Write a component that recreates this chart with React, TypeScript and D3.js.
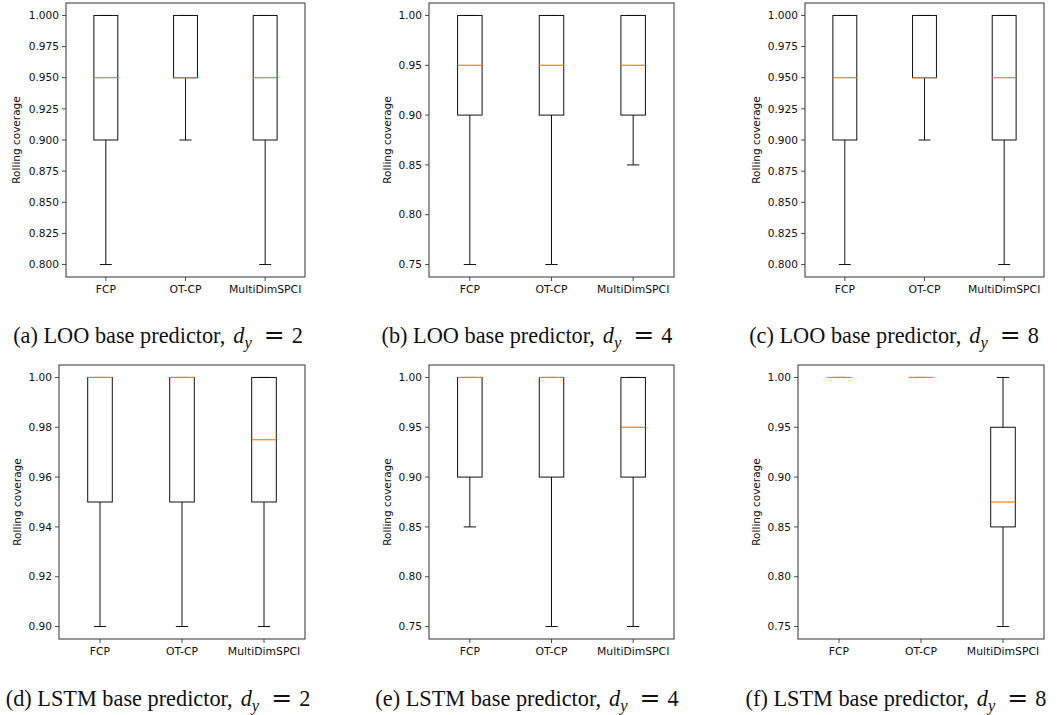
import React from 'react';
import * as d3 from 'd3';

// box stats per method: [whisker low, q1, median, q3, whisker high]
const methods = ['FCP', 'OT-CP', 'MultiDimSPCI'];

const looDy2 = [
  [0.8, 0.9, 0.95, 1.0, 1.0],
  [0.9, 0.95, 0.95, 1.0, 1.0],
  [0.8, 0.9, 0.95, 1.0, 1.0],
];
const looDy4 = [
  [0.75, 0.9, 0.95, 1.0, 1.0],
  [0.75, 0.9, 0.95, 1.0, 1.0],
  [0.85, 0.9, 0.95, 1.0, 1.0],
];
const looDy8 = [
  [0.8, 0.9, 0.95, 1.0, 1.0],
  [0.9, 0.95, 0.95, 1.0, 1.0],
  [0.8, 0.9, 0.95, 1.0, 1.0],
];
const lstmDy2 = [
  [0.9, 0.95, 1.0, 1.0, 1.0],
  [0.9, 0.95, 1.0, 1.0, 1.0],
  [0.9, 0.95, 0.975, 1.0, 1.0],
];
const lstmDy4 = [
  [0.85, 0.9, 1.0, 1.0, 1.0],
  [0.75, 0.9, 1.0, 1.0, 1.0],
  [0.75, 0.9, 0.95, 1.0, 1.0],
];
const lstmDy8 = [
  [1.0, 1.0, 1.0, 1.0, 1.0],
  [1.0, 1.0, 1.0, 1.0, 1.0],
  [0.75, 0.85, 0.875, 0.95, 1.0],
];

const ticksFine = [0.8, 0.825, 0.85, 0.875, 0.9, 0.925, 0.95, 0.975, 1.0];
const ticksCoarse = [0.75, 0.8, 0.85, 0.9, 0.95, 1.0];
const ticksNarrow = [0.9, 0.92, 0.94, 0.96, 0.98, 1.0];

const captionLabels = ['(a)', '(b)', '(c)', '(d)', '(e)', '(f)'];
const predictors = ['LOO', 'LOO', 'LOO', 'LSTM', 'LSTM', 'LSTM'];
const dyValues = ['2', '4', '8', '2', '4', '8'];

const panels = [
  { data: looDy2, ticks: ticksFine, dec: 3, x0: 66, x1: 305, row: 0, ylab: 16, cap: 158 },
  { data: looDy4, ticks: ticksCoarse, dec: 2, x0: 429, x1: 674, row: 0, ylab: 387, cap: 527 },
  { data: looDy8, ticks: ticksFine, dec: 3, x0: 805, x1: 1044, row: 0, ylab: 756, cap: 894 },
  { data: lstmDy2, ticks: ticksNarrow, dec: 2, x0: 59, x1: 305, row: 1, ylab: 17, cap: 158 },
  { data: lstmDy4, ticks: ticksCoarse, dec: 2, x0: 429, x1: 674, row: 1, ylab: 387, cap: 527 },
  { data: lstmDy8, ticks: ticksCoarse, dec: 2, x0: 798, x1: 1044, row: 1, ylab: 756, cap: 896 },
];
const rows = [
  { top: 3, bottom: 277, tickY: 293, capY: 343 },
  { top: 365, bottom: 639, tickY: 655, capY: 706 },
];

const sans = 'DejaVu Sans, sans-serif';
const serif = 'Liberation Serif, Times New Roman, serif';

function Panel({ p, i }: { p: any; i: number }) {
  const r = rows[p.row];
  const lo = d3.min(p.ticks as number[])!;
  const hi = d3.max(p.ticks as number[])!;
  const pad = (hi - lo) * 0.05;
  const y = d3.scaleLinear().domain([lo - pad, hi + pad]).range([r.bottom, r.top]);
  const x = d3.scaleLinear().domain([0.5, 3.5]).range([p.x0, p.x1]);
  const bw = x(1.15) - x(1);
  const cw = x(1.075) - x(1);
  const fmt = d3.format(`.${p.dec}f`);
  return (
    <g>
      {p.ticks.map((t: number) => (
        <g key={t}>
          <line x1={p.x0 - 4} x2={p.x0} y1={y(t)} y2={y(t)} stroke="#222" strokeWidth={0.8} />
          <text x={p.x0 - 7} y={y(t)} dy="0.35em" textAnchor="end" fontSize={10.6} fontFamily={sans} fill="#111">
            {fmt(t)}
          </text>
        </g>
      ))}
      {methods.map((m, k) => (
        <g key={m}>
          <line x1={x(k + 1)} x2={x(k + 1)} y1={r.bottom} y2={r.bottom + 4} stroke="#222" strokeWidth={0.8} />
          <text x={x(k + 1)} y={r.tickY} textAnchor="middle" fontSize={10.8} fontFamily={sans} fill="#111">
            {m}
          </text>
        </g>
      ))}
      {p.data.map((s: number[], k: number) => {
        const cx = x(k + 1);
        const [wl, q1, med, q3, wh] = s;
        return (
          <g key={k}>
            <line x1={cx} x2={cx} y1={y(wl)} y2={y(q1)} stroke="#111" strokeWidth={1} />
            <line x1={cx} x2={cx} y1={y(q3)} y2={y(wh)} stroke="#111" strokeWidth={1} />
            <line x1={cx - cw} x2={cx + cw} y1={y(wl)} y2={y(wl)} stroke="#111" strokeWidth={1} />
            <line x1={cx - cw} x2={cx + cw} y1={y(wh)} y2={y(wh)} stroke="#111" strokeWidth={1} />
            <rect x={cx - bw} y={y(q3)} width={bw * 2} height={y(q1) - y(q3)} fill="none" stroke="#111" strokeWidth={1} />
            <line x1={cx - bw} x2={cx + bw} y1={y(med)} y2={y(med)} stroke="#ff7f0e" strokeWidth={1.2} />
          </g>
        );
      })}
      <rect x={p.x0} y={r.top} width={p.x1 - p.x0} height={r.bottom - r.top} fill="none" stroke="#333" strokeWidth={1} />
      <text
        transform={`translate(${p.ylab},${(r.top + r.bottom) / 2}) rotate(-90)`}
        dy="0.35em"
        textAnchor="middle"
        fontSize={10.5}
        fontFamily={sans}
        fill="#111"
      >
        Rolling coverage
      </text>
      <text x={p.cap} y={r.capY} textAnchor="middle" fontSize={22.3} fontFamily={serif} fill="#111">
        {`${captionLabels[i]} ${predictors[i]} base predictor,`}
        <tspan dx={8} fontStyle="italic">d</tspan>
        <tspan fontStyle="italic" fontSize={16.5} dy={4.5}>y</tspan>
        <tspan dy={-4.5} dx={12} fontSize={25} fontFamily="DejaVu Serif, serif">=</tspan>
        <tspan dx={7}>{dyValues[i]}</tspan>
      </text>
    </g>
  );
}

export default function App() {
  return (
    <svg width={1060} height={715} style={{ position: 'absolute', left: 0, top: 0, background: '#fff' }}>
      <rect width={1060} height={715} fill="#fff" />
      {panels.map((p, i) => (
        <Panel key={i} p={p} i={i} />
      ))}
    </svg>
  );
}
